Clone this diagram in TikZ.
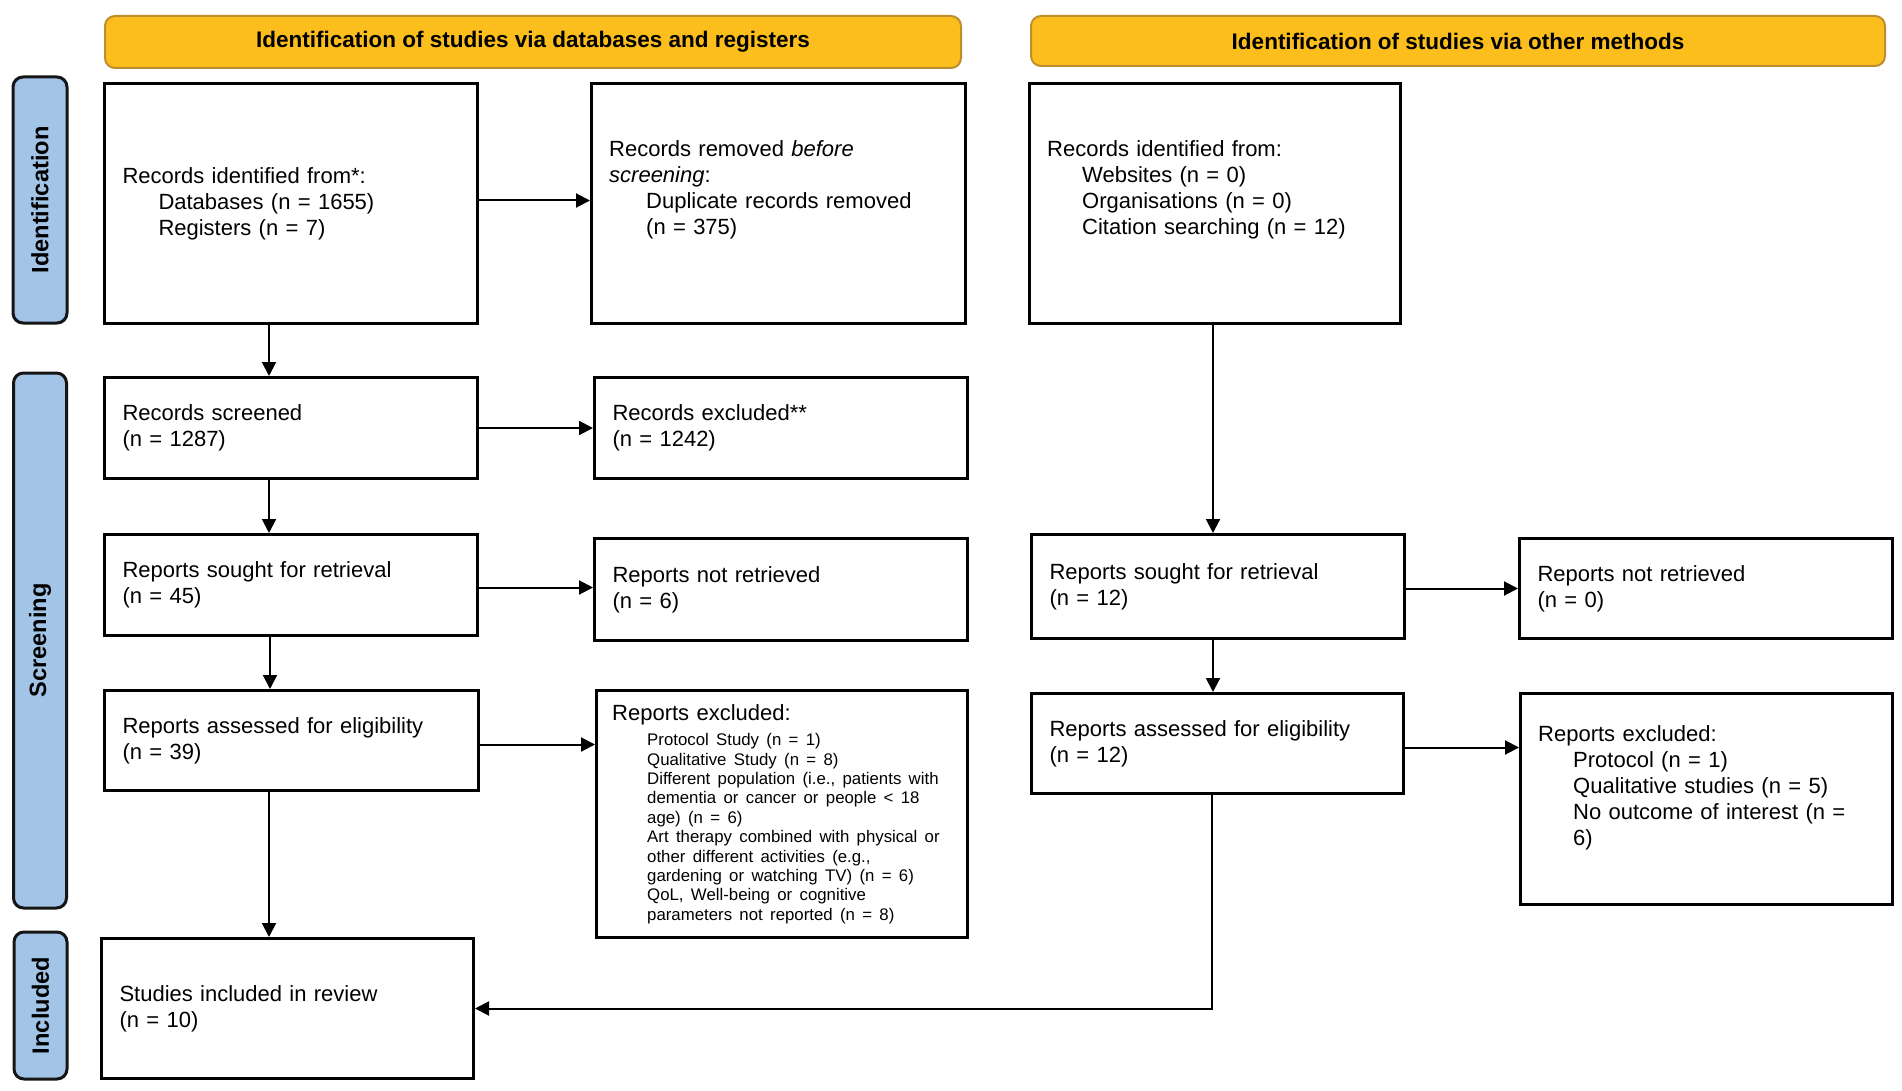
\documentclass[tikz,border=0pt]{standalone}
\usepackage{fontspec}
\setmainfont{Liberation Sans}
\usetikzlibrary{arrows.meta}
\definecolor{hdrfill}{HTML}{FCBE1C}
\definecolor{hdrdraw}{HTML}{BE8E2C}
\definecolor{barfill}{HTML}{A2C4E6}
\definecolor{bardraw}{HTML}{151515}
\tikzset{
  box/.style={draw=black, line width=3pt, fill=white, anchor=north west, inner xsep=18pt, inner ysep=0pt, align=left, font=\fontsize{22}{26}\selectfont},
  hdr/.style={draw=hdrdraw, line width=2pt, fill=hdrfill, rounded corners=10pt, inner sep=0pt, font=\bfseries\fontsize{22.5}{26}\selectfont},
  bar/.style={draw=bardraw, line width=3pt, fill=barfill, rounded corners=10pt, inner sep=0pt, rotate=90, font=\bfseries\fontsize{23.6}{27}\selectfont},
  arr/.style={line width=2pt, -{Triangle[length=14pt,width=14pt]}},
  txt/.style={anchor=west, align=left, inner sep=0pt, text width=345pt, font=\fontsize{22}{26}\selectfont},
}
\begin{document}
\begin{tikzpicture}[x=1pt,y=-1pt]
\useasboundingbox (0,0) rectangle (1902,1091);
\fill[white] (0,0) rectangle (1902,1091);

% headers
\node[hdr, minimum width=856pt, minimum height=52pt] (h1) at (533,42) {Identification of studies via databases and registers};
\node[hdr, minimum width=854pt, minimum height=50pt] (h2) at (1458,41) {Identification of studies via other methods};

% side bars
\node[bar, minimum width=246pt, minimum height=54pt] (s1) at (40,200) {Identification};
\node[bar, minimum width=535pt, minimum height=53pt] (s2) at (40,640.5) {Screening};
\node[bar, minimum width=147pt, minimum height=53pt] (s3) at (40.5,1005.5) {Included};

% left column
\node[box, minimum width=373pt, minimum height=240pt, text width=337pt] (A) at (103,82)
  {Records identified from*:\\\hspace*{36pt}Databases (n = 1655)\\\hspace*{36pt}Registers (n = 7)};
\node[box, minimum width=374pt, minimum height=240pt] (B) at (590,82) {};
\node[txt] (Bt) at ([xshift=19pt,yshift=14pt]B.west)
  {Records removed \textit{before}\\\textit{screening}:\\\hspace*{37pt}Duplicate records removed\\\hspace*{37pt}(n = 375)};
\node[box, minimum width=373pt, minimum height=101pt, text width=337pt] (D) at (103,376)
  {Records screened\\(n = 1287)};
\node[box, minimum width=373pt, minimum height=101pt, text width=337pt] (E) at (593,376)
  {Records excluded**\\(n = 1242)};
\node[box, minimum width=373pt, minimum height=101pt, text width=337pt] (F) at (103,533)
  {Reports sought for retrieval\\(n = 45)};
\node[box, minimum width=373pt, minimum height=102pt, text width=337pt] (G) at (593,537)
  {Reports not retrieved\\(n = 6)};
\node[box, minimum width=374pt, minimum height=100pt, text width=338pt] (H) at (103,689)
  {Reports assessed for eligibility\\(n = 39)};
\node[box, minimum width=371pt, minimum height=247pt] (I) at (595,689) {};
\node[txt] (It) at ([xshift=17pt]I.west)
  {Reports excluded:\par\vspace{6pt}
   \fontsize{16.8}{19.4}\selectfont
   \hspace*{35pt}Protocol Study (n = 1)\\
   \hspace*{35pt}Qualitative Study (n = 8)\\
   \hspace*{35pt}Different population (i.e., patients with\\
   \hspace*{35pt}dementia or cancer or people < 18\\
   \hspace*{35pt}age) (n = 6)\\
   \hspace*{35pt}Art therapy combined with physical or\\
   \hspace*{35pt}other different activities (e.g.,\\
   \hspace*{35pt}gardening or watching TV) (n = 6)\\
   \hspace*{35pt}QoL, Well-being or cognitive\\
   \hspace*{35pt}parameters not reported (n = 8)\par};
\node[box, minimum width=372pt, minimum height=140pt, text width=336pt] (J) at (100,937)
  {Studies included in review\\(n = 10)};

% right column
\node[box, minimum width=371pt, minimum height=240pt] (C) at (1028,82) {};
\node[txt] (Ct) at ([xshift=19pt,yshift=14pt]C.west)
  {Records identified from:\\\hspace*{35pt}Websites (n = 0)\\\hspace*{35pt}Organisations (n = 0)\\\hspace*{35pt}Citation searching (n = 12)};
\node[box, minimum width=373pt, minimum height=104pt, text width=337pt] (K) at (1030,533)
  {Reports sought for retrieval\\(n = 12)};
\node[box, minimum width=373pt, minimum height=100pt, text width=337pt] (L) at (1518,537)
  {Reports not retrieved\\(n = 0)};
\node[box, minimum width=372pt, minimum height=100pt, text width=336pt] (M) at (1030,692)
  {Reports assessed for eligibility\\(n = 12)};
\node[box, minimum width=372pt, minimum height=211pt] (N) at (1519,692) {};
\node[txt] (Nt) at ([xshift=19pt,yshift=11pt]N.west)
  {Reports excluded:\\\hspace*{35pt}Protocol (n = 1)\\\hspace*{35pt}Qualitative studies (n = 5)\\\hspace*{35pt}No outcome of interest (n =\\\hspace*{35pt}6)};

% column guides
\coordinate (c1) at (269,0);
\coordinate (c2) at (1213,0);

% connectors
\draw[arr] ([yshift=3pt]A.east) -- ([yshift=3pt]B.west);
\draw[arr] (A.south -| c1) -- (D.north -| c1);
\draw[arr] (D.east) -- (D.east -| E.west);
\draw[arr] (D.south -| c1) -- (F.north -| c1);
\draw[arr] ([yshift=-2.5pt]F.east) -- ([yshift=-2.5pt]F.east -| G.west);
\draw[arr] ([xshift=1pt]F.south -| c1) -- ([xshift=1pt]H.north -| c1);
\draw[arr] ([yshift=-4pt]H.east) -- ([yshift=-4pt]H.east -| I.west);
\draw[arr] (H.south -| c1) -- (J.north -| c1);
\draw[arr] (C.south -| c2) -- (K.north -| c2);
\draw[arr] (K.east |- L.west) -- (L.west);
\draw[arr] (K.south -| c2) -- (M.north -| c2);
\draw[arr] ([yshift=-4pt]M.east) -- ([yshift=-4pt]M.east -| N.west);
\draw[arr] ([xshift=-1pt]M.south -| c2) |- (J.east);
\end{tikzpicture}
\end{document}
